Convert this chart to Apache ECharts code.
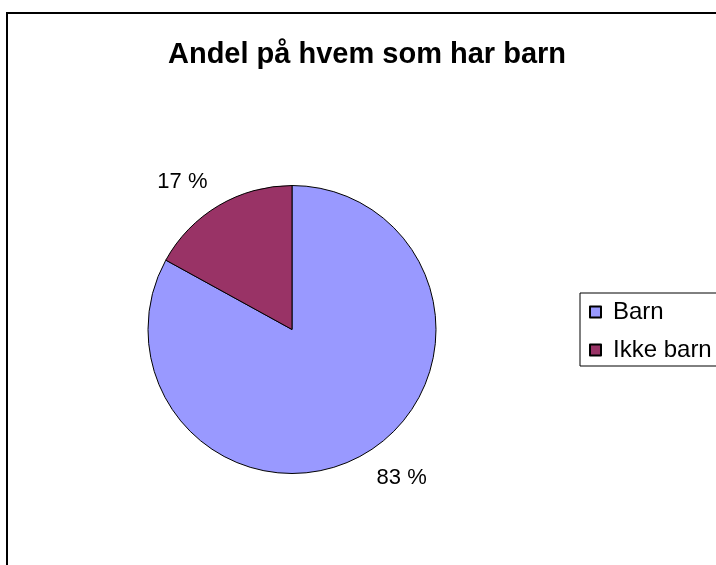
<!DOCTYPE html>
<html>
<head>
<meta charset="utf-8">
<script src="https://cdn.jsdelivr.net/npm/echarts@6/dist/echarts.min.js"></script>
<style>
    html, body { margin: 0; padding: 0; background: #fff; overflow: hidden; }
    #pie { width: 716px; height: 565px; }
</style>
</head>
<body>
<div id="pie"></div>
<script>
// 数据
var titleText = "Andel på hvem som har barn";
var categories = ["Barn", "Ikke barn"];
var values = [83, 17];
var colors = ["#9999FF", "#993366"];

var font = "'Liberation Sans', Arial, sans-serif";

var pieData = [];
for (var i = 0; i < categories.length; i++) {
    pieData.push({
        name : categories[i],
        value : values[i],
        itemStyle : { color : colors[i] }
    });
}

var myChart = echarts.init(document.getElementById('pie'));
var option = {
    animation : false,
    backgroundColor : '#fff',
    title : {
        text : titleText,
        left : 367,
        top : 40,
        padding : 0,
        textAlign : 'center',
        textStyle : {
            fontFamily : font,
            fontSize : 29,
            fontWeight : 'bold',
            color : '#000'
        }
    },
    legend : {
        orient : 'vertical',
        left : 580,
        top : 293,
        padding : [7, 12, 4, 9],
        itemGap : 14,
        itemWidth : 11,
        itemHeight : 11,
        icon : 'rect',
        borderColor : '#000',
        borderWidth : 1,
        data : categories,
        textStyle : {
            fontFamily : font,
            fontSize : 24,
            color : '#000',
            padding : [0, 0, 0, 7]
        }
    },
    // 外框
    graphic : [{
        type : 'rect',
        shape : { x : 7, y : 13, width : 760, height : 600 },
        style : { fill : 'none', stroke : '#000', lineWidth : 2 },
        silent : true
    }],
    series : [{
        type : 'pie',
        center : [292, 329.5],
        radius : 144,
        startAngle : 90,
        clockwise : true,
        avoidLabelOverlap : false,
        emphasis : { disabled : true },
        itemStyle : { borderColor : '#000', borderWidth : 1 },
        label : {
            show : true,
            position : 'outside',
            formatter : '{d} %',
            fontFamily : font,
            fontSize : 22,
            color : '#000',
            padding : [12, 0, 0, 0],
            distanceToLabelLine : 5
        },
        labelLine : { show : false, length : 28, length2 : -8 },
        data : pieData
    }]
};
myChart.setOption(option);
</script>
</body>
</html>
